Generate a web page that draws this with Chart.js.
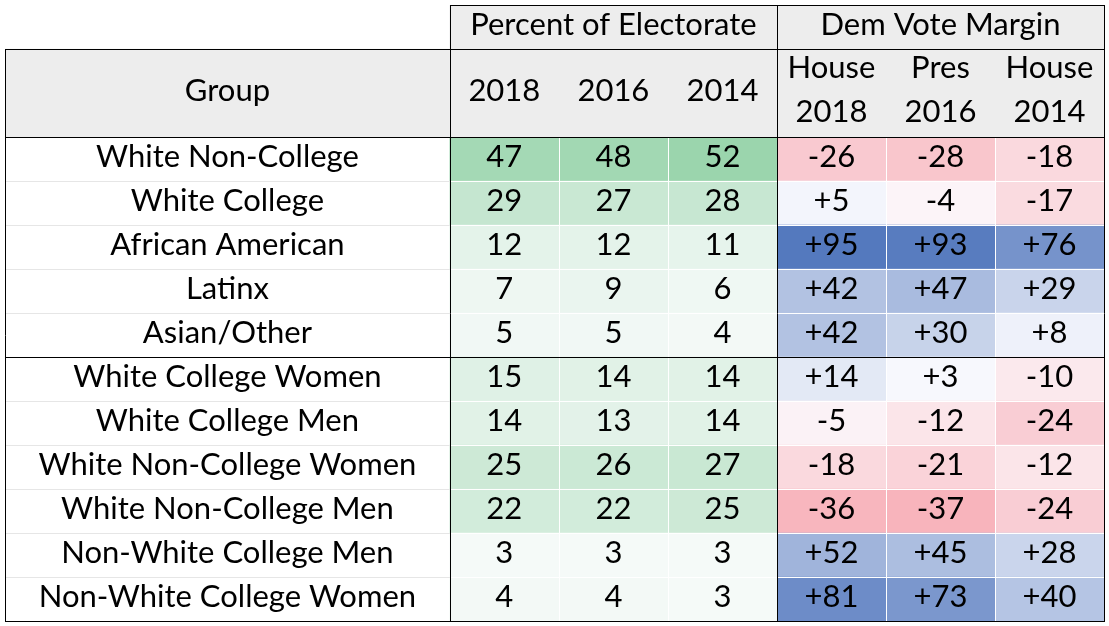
<!DOCTYPE html>
<html>
<head>
<meta charset="utf-8">
<script src="https://cdn.jsdelivr.net/npm/chart.js@4/dist/chart.umd.min.js"></script>
<style>
  html, body { margin: 0; padding: 0; background: #fff; }
  #wrap { position: relative; width: 1109px; height: 626px; }
</style>
</head>
<body>
<div id="wrap"><canvas id="tbl"></canvas></div>
<script>
// rows of the table
const groups = [
  'White Non-College', 'White College', 'African American', 'Latinx', 'Asian/Other',
  'White College Women', 'White College Men', 'White Non-College Women',
  'White Non-College Men', 'Non-White College Men', 'Non-White College Women'
];
// percent of electorate
const electorate2018 = [47, 29, 12, 7, 5, 15, 14, 25, 22, 3, 4];
const electorate2016 = [48, 27, 12, 9, 5, 14, 13, 26, 22, 3, 4];
const electorate2014 = [52, 28, 11, 6, 4, 14, 14, 27, 25, 3, 3];
// dem vote margin
const house2018 = [-26, 5, 95, 42, 42, 14, -5, -18, -36, 52, 81];
const pres2016 = [-28, -4, 93, 47, 30, 3, -12, -21, -37, 45, 73];
const house2014 = [-18, -17, 76, 29, 8, -10, -24, -12, -24, 28, 40];

const pctTitle = 'Percent of Electorate';
const marginTitle = 'Dem Vote Margin';
const groupTitle = 'Group';
const pctHeaders = ['2018', '2016', '2014'];
const marginHeaders = [['House', '2018'], ['Pres', '2016'], ['House', '2014']];

const FONT = "31px Lato, 'Noto Sans', sans-serif";
const GROUP_LEFT = -4.08; // group column spans GROUP_LEFT..0, each value column is 1 wide

const pctCols = [electorate2018, electorate2016, electorate2014];
const marginCols = [house2018, pres2016, house2014];
const rowLabels = ['top', 'hdrA', 'hdrB'].concat(groups);

function mix(a, b, t) {
  t = Math.max(0, Math.min(1, t));
  const c = a.map((v, i) => Math.round(v + (b[i] - v) * t));
  return `rgb(${c[0]},${c[1]},${c[2]})`;
}

const pctAll = [].concat(...pctCols);
const pMin = Math.min(...pctAll), pMax = Math.max(...pctAll);
const greenColor = v => mix([245, 250, 248], [155, 213, 173], (v - pMin) / (pMax - pMin));

const marAll = [].concat(...marginCols);
const mMin = Math.min(...marAll), mMax = Math.max(...marAll);
const marginColor = v => v < 0
  ? mix([252, 252, 255], [248, 180, 188], v / mMin)
  : mix([252, 252, 255], [84, 121, 190], v / mMax);

const fmtMargin = v => (v > 0 ? '+' : '') + v;

const datasets = [{
  label: 'header',
  data: [
    { x: [0, 6], y: 'top' },
    { x: [GROUP_LEFT, 6], y: 'hdrA' },
    { x: [GROUP_LEFT, 6], y: 'hdrB' }
  ],
  backgroundColor: '#EDEDED'
}];
pctCols.forEach((vals, c) => datasets.push({
  label: 'pct ' + pctHeaders[c],
  data: vals.map((v, i) => ({ x: [c, c + 1], y: groups[i] })),
  backgroundColor: vals.map(greenColor)
}));
marginCols.forEach((vals, c) => datasets.push({
  label: 'margin ' + marginHeaders[c].join(' '),
  data: vals.map((v, i) => ({ x: [c + 3, c + 4], y: groups[i] })),
  backgroundColor: vals.map(marginColor)
}));
datasets.forEach(d => {
  d.grouped = false;
  d.barPercentage = 1;
  d.categoryPercentage = 1;
  d.borderWidth = 0;
});

const tablePlugin = {
  id: 'tableDraw',
  afterDatasetsDraw(chart) {
    const { ctx, scales: { x, y } } = chart;
    const xp = v => x.getPixelForValue(v);
    const half = (y.getPixelForValue(1) - y.getPixelForValue(0)) / 2;
    const yc = i => y.getPixelForValue(i);
    const edge = i => Math.round(y.getPixelForValue(0) - half + i * 2 * half);
    const vx = v => Math.round(xp(v));

    function line(x1, y1, x2, y2, color) {
      ctx.beginPath();
      ctx.strokeStyle = color;
      ctx.lineWidth = 1;
      if (x1 === x2) { ctx.moveTo(x1 + 0.5, y1); ctx.lineTo(x2 + 0.5, y2); }
      else { ctx.moveTo(x1, y1 + 0.5); ctx.lineTo(x2, y2 + 0.5); }
      ctx.stroke();
    }

    ctx.save();
    // thin cell lines
    for (let r = 4; r < 14; r++) {
      if (r === 8) continue;
      line(vx(0), edge(r), vx(6), edge(r), '#ffffff');
      line(vx(GROUP_LEFT), edge(r), vx(0), edge(r), '#E6E6E6');
    }
    [1, 2, 4, 5].forEach(c => line(vx(c), edge(3), vx(c), edge(14), '#ffffff'));

    // black borders
    const black = '#000000';
    line(vx(0), edge(0), vx(6) + 1, edge(0), black);
    [1, 3, 8, 14].forEach(r => line(vx(GROUP_LEFT), edge(r), vx(6) + 1, edge(r), black));
    line(vx(GROUP_LEFT), edge(1), vx(GROUP_LEFT), edge(14) + 1, black);
    [0, 3, 6].forEach(c => line(vx(c), edge(0), vx(c), edge(14) + 1, black));

    // text
    ctx.font = FONT;
    ctx.fillStyle = '#000';
    ctx.textAlign = 'center';
    ctx.textBaseline = 'alphabetic';
    const drop = 8; // baseline below the row centre
    const txt = (s, cx, cy) => ctx.fillText(s, xp(cx), cy + drop);

    txt(pctTitle, 1.5, yc(0));
    txt(marginTitle, 4.5, yc(0));
    const hdrMid = (yc(1) + yc(2)) / 2;
    txt(groupTitle, GROUP_LEFT / 2, hdrMid);
    pctHeaders.forEach((h, c) => txt(h, c + 0.5, hdrMid));
    marginHeaders.forEach((h, c) => {
      txt(h[0], c + 3.5, yc(1) - 1);
      txt(h[1], c + 3.5, yc(2) - 1);
    });

    groups.forEach((g, i) => {
      const cy = yc(i + 3);
      txt(g, GROUP_LEFT / 2, cy);
      pctCols.forEach((vals, c) => txt(String(vals[i]), c + 0.5, cy));
      marginCols.forEach((vals, c) => txt(fmtMargin(vals[i]), c + 3.5, cy));
    });
    ctx.restore();
  }
};

new Chart(document.getElementById('tbl'), {
  type: 'bar',
  data: { labels: rowLabels, datasets: datasets },
  options: {
    indexAxis: 'y',
    responsive: true,
    maintainAspectRatio: false,
    animation: false,
    layout: { padding: { left: 5, top: 5, right: 5, bottom: 5 } },
    scales: {
      x: { type: 'linear', min: GROUP_LEFT, max: 6, display: false },
      y: { type: 'category', offset: true, display: false }
    },
    plugins: {
      legend: { display: false },
      tooltip: { enabled: false }
    }
  },
  plugins: [tablePlugin]
});
</script>
</body>
</html>
